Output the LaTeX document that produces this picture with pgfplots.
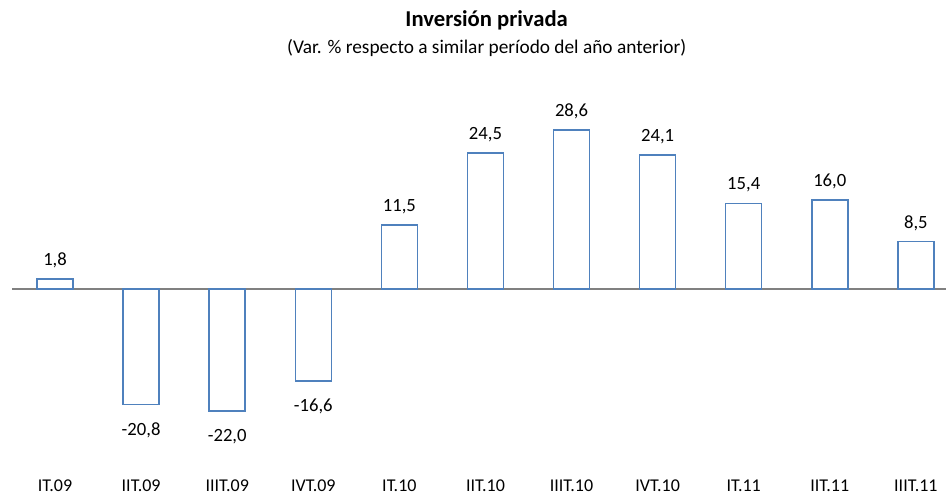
\documentclass[border=0pt]{standalone}
\usepackage{pgfplots}
\pgfplotsset{compat=1.18}
\usepackage{fontspec}
\setmainfont{Carlito}
\definecolor{barblue}{RGB}{79,129,189}
\begin{document}
\begin{tikzpicture}[x=1pt,y=1pt]
\useasboundingbox (-9,-12.75) rectangle (700.5,360);
\begin{axis}[at={(0,0)},anchor=south west, scale only axis,
  width=700.5pt, height=288.75pt,
  ybar, bar width=27pt,
  xmin=-0.5, xmax=10.35, ymin=-34.4, ymax=34.9,
  axis line style={draw=none},
  ytick=\empty,
  xtick={0,1,2,3,4,5,6,7,8,9,10},
  xticklabels={IT.09,IIT.09,IIIT.09,IVT.09,IT.10,IIT.10,IIIT.10,IVT.10,IT.11,IIT.11,IIIT.11},
  major tick length=0pt,
  xticklabel style={font=\fontsize{13.5}{15}\selectfont, anchor=center, yshift=-4.6pt},
  extra y ticks={0}, extra y tick labels={},
  extra y tick style={grid=major, major grid style={draw=gray, line width=1.1pt}},
  visualization depends on={y \as \rawy},
  nodes near coords,
  nodes near coords style={font=\fontsize{14}{16}\selectfont,
    yshift={ifthenelse(\rawy>0,4.5,-9.5)},
    /pgf/number format/.cd, fixed, fixed zerofill, precision=1, use comma, assume math mode=true},
  clip=false]
\addplot[draw=barblue, fill=white, line width=1.1pt] coordinates {
(0,1.8) (1,-20.8) (2,-22.0) (3,-16.6) (4,11.5) (5,24.5) (6,28.6) (7,24.1) (8,15.4) (9,16.0) (10,8.5)};
\end{axis}
\node[font=\bfseries\fontsize{17}{20}\selectfont] at (356,345) {Inversión privada};
\node[font=\fontsize{14.5}{17}\selectfont] at (356,324) {(Var. \% respecto a similar período del año anterior)};
\end{tikzpicture}
\end{document}
